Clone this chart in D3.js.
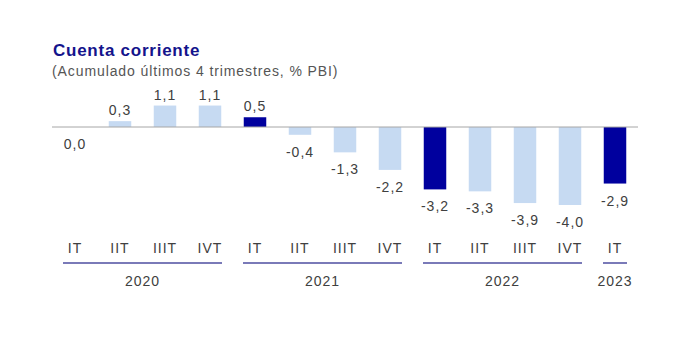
<!DOCTYPE html>
<html>
<head>
<meta charset="utf-8">
<script src="https://cdn.jsdelivr.net/npm/d3@7"></script>
<style>
  body { margin: 0; background: #fff; }
  text { font-family: "Liberation Sans", Arial, sans-serif; }
</style>
</head>
<body>
<div id="chart"></div>
<script>
var quarters = ["IT", "IIT", "IIIT", "IVT", "IT", "IIT", "IIIT", "IVT", "IT", "IIT", "IIIT", "IVT", "IT"];
var years = ["2020", "2020", "2020", "2020", "2021", "2021", "2021", "2021", "2022", "2022", "2022", "2022", "2023"];
var values = [0.0, 0.3, 1.1, 1.1, 0.5, -0.4, -1.3, -2.2, -3.2, -3.3, -3.9, -4.0, -2.9];
var highlight = [false, false, false, false, true, false, false, false, true, false, false, false, true];

var svgWidth = 696;
var svgHeight = 347;

var svg = d3.select("#chart")
  .append("svg")
  .attr("width", svgWidth)
  .attr("height", svgHeight);

// title
svg.append("text")
  .attr("x", 53)
  .attr("y", 56)
  .attr("fill", "#14148c")
  .style("font-size", "17px")
  .style("font-weight", "bold")
  .style("letter-spacing", "0.75px")
  .text("Cuenta corriente");

svg.append("text")
  .attr("x", 52)
  .attr("y", 76)
  .attr("fill", "#555")
  .style("font-size", "14px")
  .style("letter-spacing", "0.9px")
  .text("(Acumulado últimos 4 trimestres, % PBI)");

var idx = d3.range(values.length);

var xScale = d3.scaleBand()
  .domain(idx)
  .range([52.5, 637.5])
  .paddingInner(0.5)
  .paddingOuter(0.25);

var yScale = d3.scaleLinear()
  .domain([-4, 1.1])
  .range([205, 127 - 1.1 * 19.5]);

var zeroY = yScale(0);

// bars
svg.selectAll("rect.bar")
  .data(idx)
  .enter()
  .append("rect")
  .attr("class", "bar")
  .attr("x", i => xScale(i))
  .attr("width", xScale.bandwidth())
  .attr("y", i => Math.min(yScale(values[i]), zeroY))
  .attr("height", i => Math.abs(yScale(values[i]) - zeroY))
  .attr("fill", i => highlight[i] ? "#00009e" : "#c6daf2");

// zero line
svg.append("line")
  .attr("x1", 52)
  .attr("x2", 638)
  .attr("y1", zeroY)
  .attr("y2", zeroY)
  .attr("stroke", "#a6a6a6")
  .attr("stroke-width", 1);

// value labels
svg.selectAll("text.val")
  .data(idx)
  .enter()
  .append("text")
  .attr("class", "val")
  .attr("x", i => xScale(i) + xScale.bandwidth() / 2)
  .attr("y", i => values[i] > 0 ? yScale(values[i]) - 6 : yScale(values[i]) + 22)
  .attr("text-anchor", "middle")
  .attr("fill", "#404040")
  .style("font-size", "14px")
  .style("letter-spacing", "1px")
  .text(i => values[i].toFixed(1).replace(".", ","));

// quarter labels
svg.selectAll("text.q")
  .data(idx)
  .enter()
  .append("text")
  .attr("class", "q")
  .attr("x", i => xScale(i) + xScale.bandwidth() / 2)
  .attr("y", 253)
  .attr("text-anchor", "middle")
  .attr("fill", "#404040")
  .style("font-size", "14px")
  .style("letter-spacing", "1px")
  .text(i => quarters[i]);

// year groups
var groups = d3.groups(idx, i => years[i]);
groups.forEach(function(g) {
  var first = g[1][0], last = g[1][g[1].length - 1];
  var x1 = xScale(first) + xScale.bandwidth() / 2 - 12;
  var x2 = xScale(last) + xScale.bandwidth() / 2 + 12;
  svg.append("line")
    .attr("x1", x1)
    .attr("x2", x2)
    .attr("y1", 263)
    .attr("y2", 263)
    .attr("stroke", "#7a7ab8")
    .attr("stroke-width", 2);
  svg.append("text")
    .attr("x", (x1 + x2) / 2)
    .attr("y", 286)
    .attr("text-anchor", "middle")
    .attr("fill", "#404040")
    .style("font-size", "14px")
    .style("letter-spacing", "1px")
    .text(g[0]);
});
</script>
</body>
</html>
